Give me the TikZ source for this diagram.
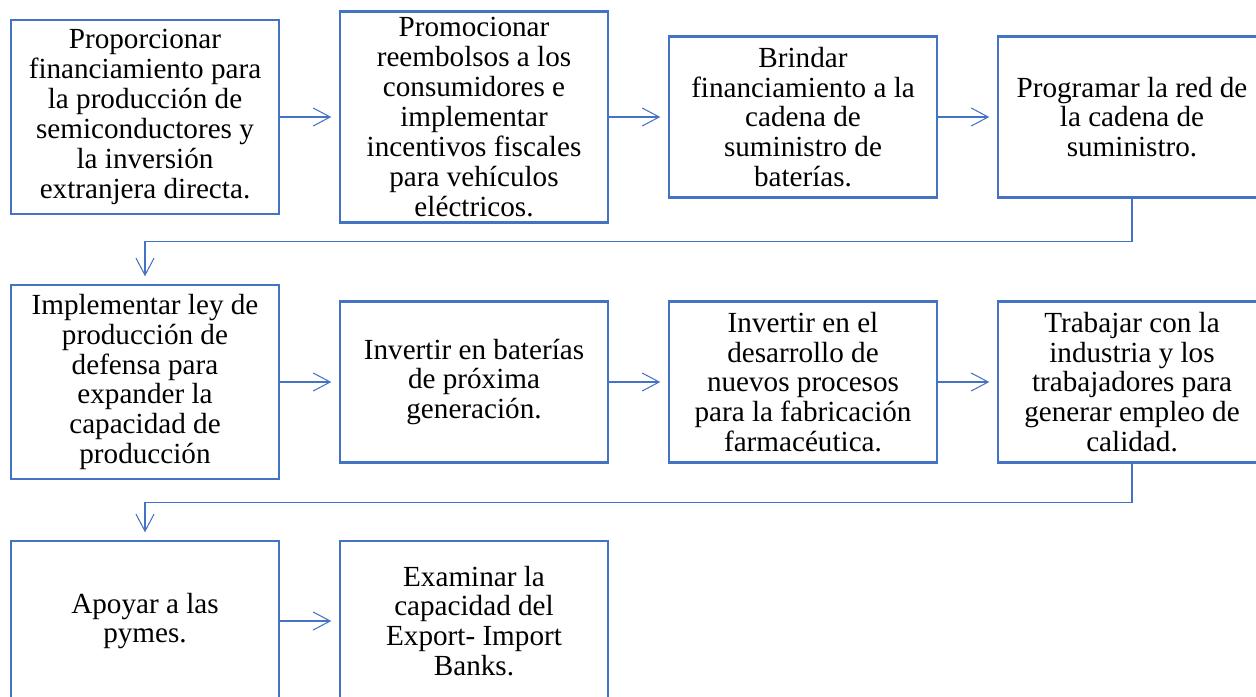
\documentclass[tikz,border=0pt]{standalone}
\usepackage{fontspec}
\setmainfont{Liberation Serif}
\usetikzlibrary{arrows.meta}
\definecolor{azul}{HTML}{4472C4}

\begin{document}
\begin{tikzpicture}[x=0.02cm, y=-0.02cm,
    caja/.style={draw=azul, line width=1.4pt, minimum width=5.36cm, inner sep=0pt, align=center, font=\fontsize{16.6}{17}\selectfont},
    flecha/.style={draw=azul, line width=0.6pt, -{Straight Barb[length=0.34cm, width=0.36cm]}, shorten >=0.15cm}]
    \useasboundingbox (0, 0) rectangle (1256, 696);
    \clip (0, 0) rectangle (1256, 696);

    % primera fila
    \node[caja, minimum height=3.88cm] (A1) at (145, 117) {Proporcionar\\financiamiento para\\la producción de\\semiconductores y\\la inversión\\extranjera directa.};
    \node[caja, minimum height=4.22cm] (A2) at (474, 117) {Promocionar\\reembolsos a los\\consumidores e\\implementar\\incentivos fiscales\\para vehículos\\eléctricos.};
    \node[caja, minimum height=3.22cm] (A3) at (803, 117) {Brindar\\financiamiento a la\\cadena de\\suministro de\\baterías.};
    \node[caja, minimum height=3.22cm] (A4) at (1132, 117) {Programar la red de\\la cadena de\\suministro.};

    % segunda fila
    \node[caja, minimum height=3.88cm] (B1) at (145, 382) {Implementar ley de\\producción de\\defensa para\\expander la\\capacidad de\\producción};
    \node[caja, minimum height=3.22cm] (B2) at (474, 382) {Invertir en baterías\\de próxima\\generación.};
    \node[caja, minimum height=3.22cm] (B3) at (803, 382) {Invertir en el\\desarrollo de\\nuevos procesos\\para la fabricación\\farmacéutica.};
    \node[caja, minimum height=3.22cm] (B4) at (1132, 382) {Trabajar con la\\industria y los\\trabajadores para\\generar empleo de\\calidad.};

    % tercera fila
    \node[caja, minimum height=3.2cm] (C1) at (145, 621) {Apoyar a las\\pymes.};
    \node[caja, minimum height=3.2cm] (C2) at (474, 621) {Examinar la\\capacidad del\\Export- Import\\Banks.};

    % flechas
    \draw[flecha] (A1.east) -- (A1.east -| A2.west);
    \draw[flecha] (A2.east) -- (A2.east -| A3.west);
    \draw[flecha] (A3.east) -- (A3.east -| A4.west);
    \draw[flecha] (A4.south) -- ++(0, 43) -| (B1.north);
    \draw[flecha] (B1.east) -- (B1.east -| B2.west);
    \draw[flecha] (B2.east) -- (B2.east -| B3.west);
    \draw[flecha] (B3.east) -- (B3.east -| B4.west);
    \draw[flecha] (B4.south) -- ++(0, 39) -| (C1.north);
    \draw[flecha] (C1.east) -- (C1.east -| C2.west);

  \end{tikzpicture}
\end{document}
